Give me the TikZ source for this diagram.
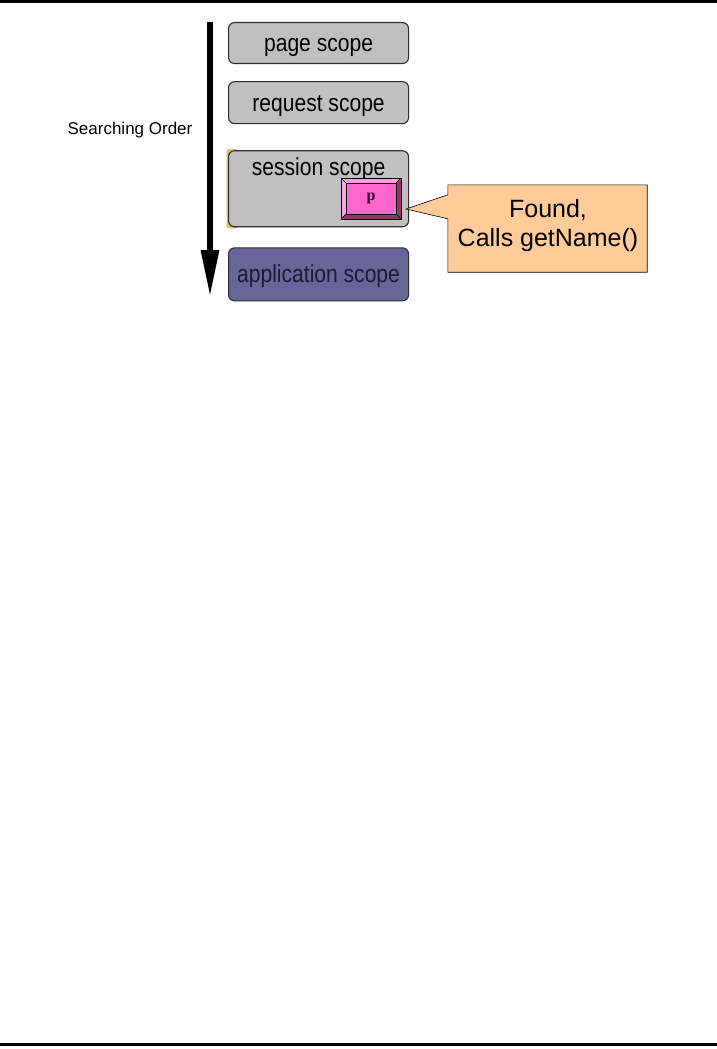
\documentclass[tikz,border=0pt]{standalone}
\usepackage{fontspec}
\setmainfont{Liberation Sans}
\newfontfamily\narrowfont{Liberation Sans}[FakeStretch=0.86]
\newfontfamily\serfont{Liberation Serif}
\usepackage{tikz}
\usetikzlibrary{arrows.meta,positioning,calc,backgrounds}
\definecolor{Scope}{HTML}{C0C0C0}
\definecolor{Edge}{HTML}{2E2E2E}
\definecolor{Appl}{HTML}{666699}
\definecolor{ApplText}{HTML}{1A1A3A}
\definecolor{Peach}{HTML}{FFCC99}
\definecolor{PinkFace}{HTML}{FF66CC}
\definecolor{PinkLight}{HTML}{FF9FE3}
\definecolor{PinkDark}{HTML}{993366}
\definecolor{PText}{HTML}{330033}
\definecolor{Sand}{HTML}{D9C060}

\begin{document}
\begin{tikzpicture}[x=1pt,y=-1pt,
    sc/.style={draw=Edge,line width=1.1pt,rounded corners=6pt,fill=Scope,minimum width=180pt,inner sep=0pt,text height=17pt,text depth=0pt,font=\narrowfont\fontsize{24.5}{28}\selectfont},
    rule/.style={line width=3pt},
    ord/.style={line width=6pt,-{Triangle[length=47pt,width=17pt]}},
    ln/.style={draw=black,line width=0.6pt},
    ct/.style={anchor=base,font=\fontsize{25}{30}\selectfont}]
    \useasboundingbox (0,0) rectangle (717,1049);
    \draw[rule] (0,1.5) -- (717,1.5);
    \draw[rule] (0,1044.5) -- (717,1044.5);
    \node[sc,minimum height=41pt,anchor=north west] (page) at (228,22) {page scope};
    \node[sc,minimum height=42pt,below=17pt of page] (request) {request scope};
    \node[sc,minimum height=76pt,below=26pt of request] (session) {};
    \node[anchor=base,font=\narrowfont\fontsize{24.5}{28}\selectfont] (sesstxt) at ([yshift=-25pt]session.north) {session scope};
    \node[sc,minimum height=53pt,below=20pt of session,fill=Appl,text=ApplText] (appl) {application scope};
    \begin{scope}[on background layer]
      \fill[Sand,rounded corners=2pt] ([xshift=-1.5pt,yshift=1pt]session.north west) rectangle ([xshift=10pt,yshift=-1pt]session.south west);
    \end{scope}
    \coordinate (otop) at (210,22);
    \coordinate (obot) at (210,297);
    \draw[ord] (otop) -- (obot);
    \node[font=\fontsize{17}{19}\selectfont] (ordtxt) at (130,130) {Searching Order};
    \node[fill=PinkFace,minimum width=60pt,minimum height=41pt,inner sep=0pt] (p) at (371,198.5) {};
    \coordinate (pa) at ($(p.north west)+(5,5)$);
    \coordinate (pb) at ($(p.north east)+(-5,5)$);
    \coordinate (pc) at ($(p.south east)+(-5,-5)$);
    \coordinate (pd) at ($(p.south west)+(5,-5)$);
    \fill[PinkLight] (p.north west) -- (p.north east) -- (pb) -- (pa) -- (pd) -- (p.south west) -- cycle;
    \fill[PinkDark] (p.south east) -- (p.north east) -- (pb) -- (pc) -- (pd) -- (p.south west) -- cycle;
    \draw[ln] (p.north west) rectangle (p.south east);
    \draw[ln,line width=0.4pt] (pa) rectangle (pc);
    \draw[ln,line width=0.4pt] (p.north west) -- (pa) (p.north east) -- (pb) (p.south east) -- (pc) (p.south west) -- (pd);
    \node[font=\serfont\bfseries\fontsize{16}{17}\selectfont,text=PText] (ptxt) at (p) {p};
    \node[fill=Peach,minimum width=199pt,minimum height=87pt,inner sep=0pt] (found) at (547.5,228.5) {};
    \coordinate (tip) at (406,209);
    \fill[Peach] ($(found.north west)+(0,10)$) -- (tip) -- ($(found.north west)+(0,34)$) -- cycle;
    \draw[ln] ($(found.north west)+(0,10)$) -- (tip) -- ($(found.north west)+(0,34)$) -- (found.south west) -- (found.south east) -- (found.north east) -- (found.north west) -- cycle;
    \node[ct] (foundtxt) at (548,217) {Found,};
    \node[ct] (callstxt) at (548,246) {Calls getName()};
\end{tikzpicture}
\end{document}
